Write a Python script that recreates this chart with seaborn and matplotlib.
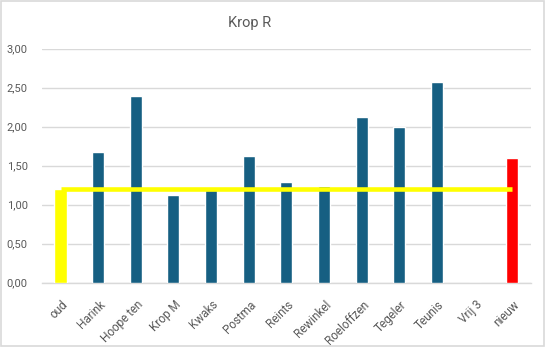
import matplotlib
matplotlib.use("Agg")
import matplotlib.pyplot as plt
import matplotlib.transforms as mtransforms
import seaborn as sns
import pandas as pd
from matplotlib.ticker import FuncFormatter, MultipleLocator
from matplotlib.patches import Rectangle

categories = ["oud", "Harink", "Hoope ten", "Krop M", "Kwaks", "Postma", "Reints",
              "Rewinkel", "Roeloffzen", "Tegeler", "Teunis", "Vrij 3", "nieuw"]
values = [1.20, 1.68, 2.40, 1.12, 1.19, 1.63, 1.29, 1.235, 2.12, 2.00, 2.57, 0.0, 1.60]
reference_value = 1.20
title = "Krop R"

bar_color = "#165F82"
palette = {c: bar_color for c in categories}
palette["oud"] = "#FFFF00"
palette["nieuw"] = "#FF0000"

df = pd.DataFrame({"cat": categories, "val": values})

sns.set_style("white")
plt.rcParams["font.family"] = ["Roboto", "DejaVu Sans"]

W, H = 546, 347
fig = plt.figure(figsize=(W / 100, H / 100), dpi=100)
left, right, top, bottom = 41.7, 531, 48.7, 282.7
ax = fig.add_axes([left / W, 1 - bottom / H, (right - left) / W, (bottom - top) / H])

sns.barplot(data=df, x="cat", y="val", hue="cat", palette=palette, legend=False,
            width=0.32, saturation=1, ax=ax, zorder=3)

ax.hlines(reference_value, 0, len(categories) - 1, color="#FFFF00", linewidth=3.3, zorder=4)

ax.set_ylim(0, 3.0)
ax.set_xlim(-0.5, len(categories) - 0.5)
ax.yaxis.set_major_locator(MultipleLocator(0.5))
ax.yaxis.set_major_formatter(FuncFormatter(lambda v, p: f"{v:.2f}".replace(".", ",")))
ax.grid(axis="y", color="#D9D9D9", linewidth=1, zorder=0)
ax.set_axisbelow(True)
for s in ["top", "right", "left"]:
    ax.spines[s].set_visible(False)
ax.spines["bottom"].set_color("#D9D9D9")
ax.spines["bottom"].set_linewidth(1)
ax.set_xlabel("")
ax.set_ylabel("")
ax.tick_params(axis="both", length=0, colors="#595959")
ax.tick_params(axis="y", labelsize=8, pad=10)
ax.tick_params(axis="x", labelsize=8.5, pad=11)
offset = mtransforms.ScaledTranslation(0.5 / 72, 0, fig.dpi_scale_trans)
for lbl in ax.get_xticklabels():
    lbl.set_rotation(45)
    lbl.set_ha("right")
    lbl.set_rotation_mode("anchor")
    lbl.set_transform(lbl.get_transform() + offset)

fig.text(250 / W, 1 - 23 / H, title, ha="center", va="center", fontsize=10.5, color="#595959")
fig.patches.append(Rectangle((0.002, 0.003), 0.995, 0.993, transform=fig.transFigure,
                             fill=False, edgecolor="#D9D9D9", linewidth=1.2))

fig.savefig("out.png", dpi=100)
